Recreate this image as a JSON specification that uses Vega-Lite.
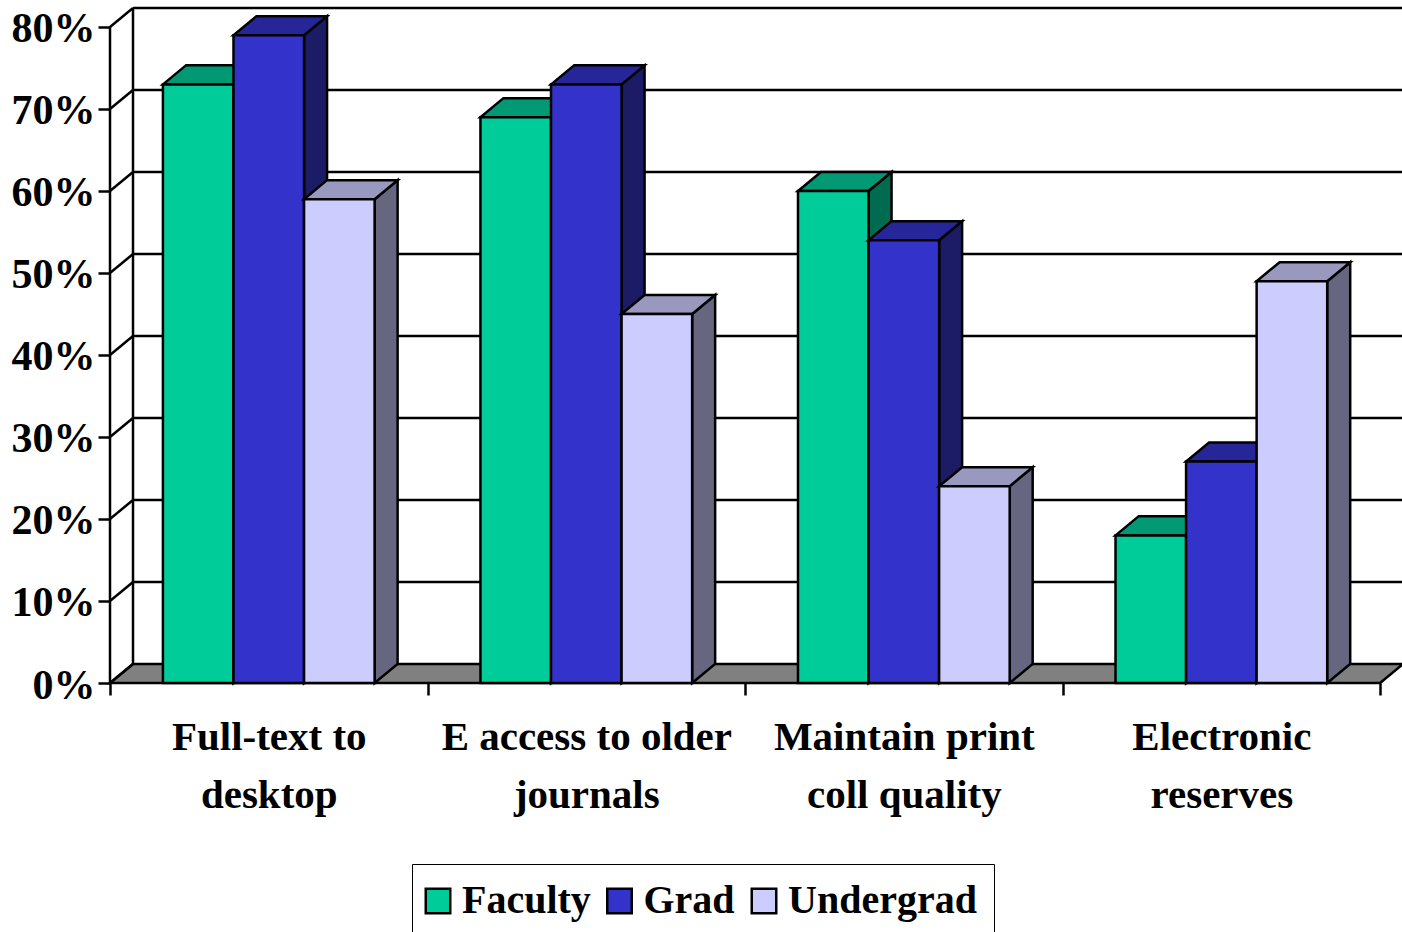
{
  "$schema": "https://vega.github.io/schema/vega-lite/v6.json",
  "width": 1292,
  "height": 683,
  "autosize": "none",
  "padding": {"left": 110, "top": 0, "right": 0, "bottom": 249},
  "background": "white",
  "config": {"view": {"stroke": null}},
  "datasets": {
    "bars": [
      {"category": "Full-text to desktop", "series": "Faculty", "value": 73},
      {"category": "Full-text to desktop", "series": "Grad", "value": 79},
      {"category": "Full-text to desktop", "series": "Undergrad", "value": 59},
      {"category": "E access to older journals", "series": "Faculty", "value": 69},
      {"category": "E access to older journals", "series": "Grad", "value": 73},
      {"category": "E access to older journals", "series": "Undergrad", "value": 45},
      {"category": "Maintain print coll quality", "series": "Faculty", "value": 60},
      {"category": "Maintain print coll quality", "series": "Grad", "value": 54},
      {"category": "Maintain print coll quality", "series": "Undergrad", "value": 24},
      {"category": "Electronic reserves", "series": "Faculty", "value": 18},
      {"category": "Electronic reserves", "series": "Grad", "value": 27},
      {"category": "Electronic reserves", "series": "Undergrad", "value": 49}
    ],
    "levels": [
      {"level": 0}, {"level": 10}, {"level": 20}, {"level": 30}, {"level": 40},
      {"level": 50}, {"level": 60}, {"level": 70}, {"level": 80}
    ],
    "floor": [
      {"front": 0, "corner": 0},
      {"front": 0, "corner": 1}
    ]
  },
  "params": [
    {"name": "depthX", "value": 0.326},
    {"name": "depthY", "value": 2.32}
  ],
  "layer": [
    {
      "data": {"name": "floor"},
      "mark": {"type": "area", "orient": "horizontal", "fill": "#808080", "stroke": "black", "strokeWidth": 2.5},
      "encoding": {
        "y": {
          "field": "ypos", "type": "quantitative",
          "scale": {"domain": [0, 83.29], "nice": false, "zero": false},
          "axis": {
            "values": [0, 10, 20, 30, 40, 50, 60, 70, 80],
            "title": null, "grid": false, "domain": false,
            "tickColor": "black", "tickWidth": 2.5, "tickSize": 12,
            "labelExpr": "datum.value + '%'",
            "labelFont": "Liberation Serif", "labelFontWeight": "bold", "labelFontSize": 42,
            "labelColor": "black", "labelPadding": 3, "labelOffset": 2,
            "labelBound": false, "labelFlush": false, "labelOverlap": false
          }
        },
        "x": {
          "field": "xa", "type": "quantitative",
          "scale": {"domain": [0, 18.31], "nice": false, "zero": false},
          "axis": {
            "values": [0, 2.25, 4.5, 6.75, 9, 11.25, 13.5, 15.75, 18],
            "title": null, "grid": false, "domain": false,
            "tickColor": "black", "tickWidth": 2.5, "tickSize": 12,
            "tickOpacity": {"condition": {"test": "datum.value % 4.5 != 0", "value": 0}, "value": 1},
            "labelExpr": "datum.value == 2.25 ? ['Full-text to', 'desktop'] : datum.value == 6.75 ? ['E access to older', 'journals'] : datum.value == 11.25 ? ['Maintain print', 'coll quality'] : datum.value == 15.75 ? ['Electronic', 'reserves'] : ''",
            "labelFont": "Liberation Serif", "labelFontWeight": "bold", "labelFontSize": 41,
            "labelLineHeight": 58, "labelColor": "black", "labelPadding": 22, "labelLimit": 500,
            "labelBound": false, "labelFlush": false, "labelOverlap": false, "labelAlign": "center"
          }
        },
        "x2": {"field": "xb"}
      },
      "transform": [
        {"calculate": "depthY * datum.corner", "as": "ypos"},
        {"calculate": "depthX * datum.corner", "as": "xa"},
        {"calculate": "18 + depthX * datum.corner", "as": "xb"}
      ]
    },
    {
      "data": {"name": "levels"},
      "transform": [
        {"calculate": "datum.level + depthY", "as": "backY"},
        {"calculate": "depthX", "as": "wallX"},
        {"calculate": "18.31", "as": "endX"},
        {"filter": "datum.level > 0"}
      ],
      "mark": {"type": "rule", "color": "black", "strokeWidth": 2.5},
      "encoding": {
        "x": {"field": "wallX", "type": "quantitative"},
        "x2": {"field": "endX"},
        "y": {"field": "backY", "type": "quantitative"}
      }
    },
    {
      "data": {"name": "levels"},
      "transform": [
        {"calculate": "datum.level + depthY", "as": "backY"},
        {"calculate": "0", "as": "frontX"},
        {"calculate": "depthX", "as": "wallX"}
      ],
      "mark": {"type": "rule", "color": "black", "strokeWidth": 2.5},
      "encoding": {
        "x": {"field": "frontX", "type": "quantitative"},
        "x2": {"field": "wallX"},
        "y": {"field": "level", "type": "quantitative"},
        "y2": {"field": "backY"}
      }
    },
    {
      "data": {"values": [{"bottom": 0, "top": 80, "edge": "front"}, {"bottom": 0, "top": 80, "edge": "back"}]},
      "transform": [
        {"calculate": "datum.edge == 'back' ? datum.bottom + depthY : datum.bottom", "as": "b"},
        {"calculate": "datum.edge == 'back' ? datum.top + depthY : datum.top", "as": "t"},
        {"calculate": "datum.edge == 'back' ? depthX : 0", "as": "edgeX"}
      ],
      "mark": {"type": "rule", "color": "black", "strokeWidth": 2.5},
      "encoding": {
        "x": {"field": "edgeX", "type": "quantitative"},
        "y": {"field": "b", "type": "quantitative"},
        "y2": {"field": "t"}
      }
    },
    {
      "data": {"name": "bars"},
      "transform": [
        {"calculate": "indexof(['Full-text to desktop', 'E access to older journals', 'Maintain print coll quality', 'Electronic reserves'], datum.category)", "as": "slot"},
        {"calculate": "indexof(['Faculty', 'Grad', 'Undergrad'], datum.series)", "as": "seat"},
        {"calculate": "datum.slot * 4.5 + 0.75 + datum.seat", "as": "left"},
        {"calculate": "datum.left + 1", "as": "right"},
        {"calculate": "[0, 1]", "as": "corner"},
        {"flatten": ["corner"]},
        {"calculate": "datum.right + depthX * datum.corner", "as": "sideX"},
        {"calculate": "depthY * datum.corner", "as": "sideLow"},
        {"calculate": "datum.value + depthY * datum.corner", "as": "topY"},
        {"calculate": "datum.left + depthX * datum.corner", "as": "topLeft"}
      ],
      "layer": [
        {
          "transform": [{"filter": "datum.series == 'Faculty'"}],
          "layer": [
            {
              "mark": {"type": "area", "fill": "#006B50", "stroke": "black", "strokeWidth": 2.5, "orient": "vertical"},
              "encoding": {
                "detail": {"field": "category"},
                "x": {"field": "sideX", "type": "quantitative"},
                "y": {"field": "sideLow", "type": "quantitative"},
                "y2": {"field": "topY"}
              }
            },
            {
              "mark": {"type": "area", "fill": "#009973", "stroke": "black", "strokeWidth": 2.5, "orient": "horizontal"},
              "encoding": {
                "detail": {"field": "category"},
                "y": {"field": "topY", "type": "quantitative"},
                "x": {"field": "topLeft", "type": "quantitative"},
                "x2": {"field": "sideX"}
              }
            }
          ]
        },
        {
          "transform": [{"filter": "datum.series == 'Faculty' && datum.corner == 0"}],
          "mark": {"type": "rect", "stroke": "black", "strokeWidth": 2.5},
          "encoding": {
            "x": {"field": "left", "type": "quantitative"},
            "x2": {"field": "right"},
            "y": {"field": "value", "type": "quantitative"},
            "y2": {"datum": 0},
            "fill": {
              "field": "series", "type": "nominal",
              "scale": {"domain": ["Faculty", "Grad", "Undergrad"], "range": ["#00CC99", "#3333CC", "#CCCCFF"]},
              "legend": {
                "orient": "none", "legendX": 302, "legendY": 864, "direction": "horizontal",
                "title": null, "symbolType": "square", "symbolSize": 600,
                "symbolStrokeColor": "black", "symbolStrokeWidth": 2.5, "symbolOpacity": 1,
                "strokeColor": "black", "fillColor": "white", "padding": 17, "columnPadding": 10.5, "symbolOffset": -11,
                "labelFont": "Liberation Serif", "labelFontWeight": "bold", "labelFontSize": 40,
                "labelColor": "black", "labelLimit": 400, "labelOffset": 4
              }
            }
          }
        },
        {
          "transform": [{"filter": "datum.series == 'Grad'"}],
          "layer": [
            {
              "mark": {"type": "area", "fill": "#1C1C66", "stroke": "black", "strokeWidth": 2.5, "orient": "vertical"},
              "encoding": {
                "detail": {"field": "category"},
                "x": {"field": "sideX", "type": "quantitative"},
                "y": {"field": "sideLow", "type": "quantitative"},
                "y2": {"field": "topY"}
              }
            },
            {
              "mark": {"type": "area", "fill": "#262699", "stroke": "black", "strokeWidth": 2.5, "orient": "horizontal"},
              "encoding": {
                "detail": {"field": "category"},
                "y": {"field": "topY", "type": "quantitative"},
                "x": {"field": "topLeft", "type": "quantitative"},
                "x2": {"field": "sideX"}
              }
            }
          ]
        },
        {
          "transform": [{"filter": "datum.series == 'Grad' && datum.corner == 0"}],
          "mark": {"type": "rect", "stroke": "black", "strokeWidth": 2.5},
          "encoding": {
            "x": {"field": "left", "type": "quantitative"},
            "x2": {"field": "right"},
            "y": {"field": "value", "type": "quantitative"},
            "y2": {"datum": 0},
            "fill": {"field": "series", "type": "nominal"}
          }
        },
        {
          "transform": [{"filter": "datum.series == 'Undergrad'"}],
          "layer": [
            {
              "mark": {"type": "area", "fill": "#666680", "stroke": "black", "strokeWidth": 2.5, "orient": "vertical"},
              "encoding": {
                "detail": {"field": "category"},
                "x": {"field": "sideX", "type": "quantitative"},
                "y": {"field": "sideLow", "type": "quantitative"},
                "y2": {"field": "topY"}
              }
            },
            {
              "mark": {"type": "area", "fill": "#9999BF", "stroke": "black", "strokeWidth": 2.5, "orient": "horizontal"},
              "encoding": {
                "detail": {"field": "category"},
                "y": {"field": "topY", "type": "quantitative"},
                "x": {"field": "topLeft", "type": "quantitative"},
                "x2": {"field": "sideX"}
              }
            }
          ]
        },
        {
          "transform": [{"filter": "datum.series == 'Undergrad' && datum.corner == 0"}],
          "mark": {"type": "rect", "stroke": "black", "strokeWidth": 2.5},
          "encoding": {
            "x": {"field": "left", "type": "quantitative"},
            "x2": {"field": "right"},
            "y": {"field": "value", "type": "quantitative"},
            "y2": {"datum": 0},
            "fill": {"field": "series", "type": "nominal"}
          }
        }
      ]
    }
  ]
}
